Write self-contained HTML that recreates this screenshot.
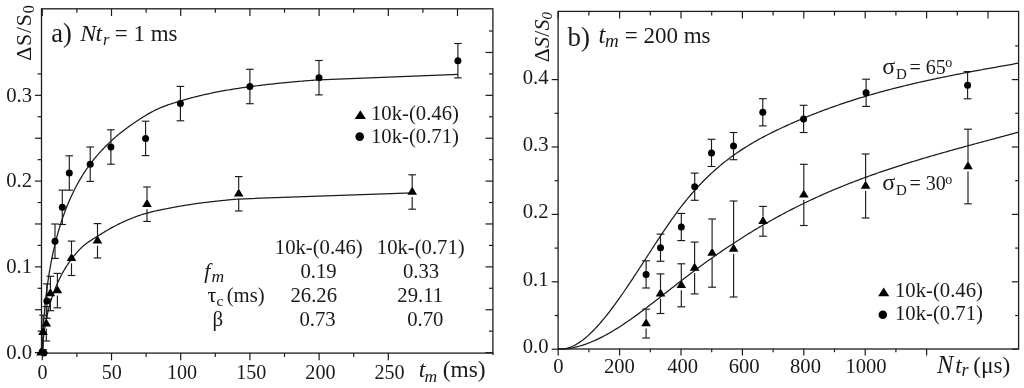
<!DOCTYPE html>
<html><head><meta charset="utf-8"><title>figure</title>
<style>
html,body{margin:0;padding:0;background:#fff;}
body{width:1024px;height:388px;overflow:hidden;}
svg{display:block;filter:grayscale(1);}
svg text{font-family:"Liberation Serif","Times New Roman",serif;fill:#1a1a1a;}
</style></head><body>
<svg width="1024" height="388" viewBox="0 0 1024 388">
<rect x="0" y="0" width="1024" height="388" fill="#fff"/>
<rect x="41.5" y="8.8" width="451.4" height="344.3" fill="none" stroke="#1c1c1c" stroke-width="1.3"/>
<line x1="34.90" y1="352.60" x2="41.50" y2="352.60" stroke="#1c1c1c" stroke-width="1.2"/>
<line x1="485.50" y1="352.60" x2="492.90" y2="352.60" stroke="#1c1c1c" stroke-width="1.2"/>
<line x1="37.60" y1="331.16" x2="41.50" y2="331.16" stroke="#1c1c1c" stroke-width="1.2"/>
<line x1="489.00" y1="331.16" x2="492.90" y2="331.16" stroke="#1c1c1c" stroke-width="1.2"/>
<line x1="34.90" y1="309.73" x2="41.50" y2="309.73" stroke="#1c1c1c" stroke-width="1.2"/>
<line x1="485.50" y1="309.73" x2="492.90" y2="309.73" stroke="#1c1c1c" stroke-width="1.2"/>
<line x1="37.60" y1="288.29" x2="41.50" y2="288.29" stroke="#1c1c1c" stroke-width="1.2"/>
<line x1="489.00" y1="288.29" x2="492.90" y2="288.29" stroke="#1c1c1c" stroke-width="1.2"/>
<line x1="34.90" y1="266.85" x2="41.50" y2="266.85" stroke="#1c1c1c" stroke-width="1.2"/>
<line x1="485.50" y1="266.85" x2="492.90" y2="266.85" stroke="#1c1c1c" stroke-width="1.2"/>
<line x1="37.60" y1="245.41" x2="41.50" y2="245.41" stroke="#1c1c1c" stroke-width="1.2"/>
<line x1="489.00" y1="245.41" x2="492.90" y2="245.41" stroke="#1c1c1c" stroke-width="1.2"/>
<line x1="34.90" y1="223.97" x2="41.50" y2="223.97" stroke="#1c1c1c" stroke-width="1.2"/>
<line x1="485.50" y1="223.97" x2="492.90" y2="223.97" stroke="#1c1c1c" stroke-width="1.2"/>
<line x1="37.60" y1="202.54" x2="41.50" y2="202.54" stroke="#1c1c1c" stroke-width="1.2"/>
<line x1="489.00" y1="202.54" x2="492.90" y2="202.54" stroke="#1c1c1c" stroke-width="1.2"/>
<line x1="34.90" y1="181.10" x2="41.50" y2="181.10" stroke="#1c1c1c" stroke-width="1.2"/>
<line x1="485.50" y1="181.10" x2="492.90" y2="181.10" stroke="#1c1c1c" stroke-width="1.2"/>
<line x1="37.60" y1="159.66" x2="41.50" y2="159.66" stroke="#1c1c1c" stroke-width="1.2"/>
<line x1="489.00" y1="159.66" x2="492.90" y2="159.66" stroke="#1c1c1c" stroke-width="1.2"/>
<line x1="34.90" y1="138.23" x2="41.50" y2="138.23" stroke="#1c1c1c" stroke-width="1.2"/>
<line x1="485.50" y1="138.23" x2="492.90" y2="138.23" stroke="#1c1c1c" stroke-width="1.2"/>
<line x1="37.60" y1="116.79" x2="41.50" y2="116.79" stroke="#1c1c1c" stroke-width="1.2"/>
<line x1="489.00" y1="116.79" x2="492.90" y2="116.79" stroke="#1c1c1c" stroke-width="1.2"/>
<line x1="34.90" y1="95.35" x2="41.50" y2="95.35" stroke="#1c1c1c" stroke-width="1.2"/>
<line x1="485.50" y1="95.35" x2="492.90" y2="95.35" stroke="#1c1c1c" stroke-width="1.2"/>
<line x1="37.60" y1="73.91" x2="41.50" y2="73.91" stroke="#1c1c1c" stroke-width="1.2"/>
<line x1="489.00" y1="73.91" x2="492.90" y2="73.91" stroke="#1c1c1c" stroke-width="1.2"/>
<line x1="485.50" y1="52.47" x2="492.90" y2="52.47" stroke="#1c1c1c" stroke-width="1.2"/>
<line x1="489.00" y1="31.04" x2="492.90" y2="31.04" stroke="#1c1c1c" stroke-width="1.2"/>
<line x1="42.30" y1="8.80" x2="42.30" y2="16.00" stroke="#1c1c1c" stroke-width="1.2"/>
<line x1="42.30" y1="353.10" x2="42.30" y2="360.30" stroke="#1c1c1c" stroke-width="1.2"/>
<line x1="76.90" y1="8.80" x2="76.90" y2="12.70" stroke="#1c1c1c" stroke-width="1.2"/>
<line x1="76.90" y1="353.10" x2="76.90" y2="357.00" stroke="#1c1c1c" stroke-width="1.2"/>
<line x1="111.50" y1="8.80" x2="111.50" y2="16.00" stroke="#1c1c1c" stroke-width="1.2"/>
<line x1="111.50" y1="353.10" x2="111.50" y2="360.30" stroke="#1c1c1c" stroke-width="1.2"/>
<line x1="146.10" y1="8.80" x2="146.10" y2="12.70" stroke="#1c1c1c" stroke-width="1.2"/>
<line x1="146.10" y1="353.10" x2="146.10" y2="357.00" stroke="#1c1c1c" stroke-width="1.2"/>
<line x1="180.70" y1="8.80" x2="180.70" y2="16.00" stroke="#1c1c1c" stroke-width="1.2"/>
<line x1="180.70" y1="353.10" x2="180.70" y2="360.30" stroke="#1c1c1c" stroke-width="1.2"/>
<line x1="215.30" y1="8.80" x2="215.30" y2="12.70" stroke="#1c1c1c" stroke-width="1.2"/>
<line x1="215.30" y1="353.10" x2="215.30" y2="357.00" stroke="#1c1c1c" stroke-width="1.2"/>
<line x1="249.90" y1="8.80" x2="249.90" y2="16.00" stroke="#1c1c1c" stroke-width="1.2"/>
<line x1="249.90" y1="353.10" x2="249.90" y2="360.30" stroke="#1c1c1c" stroke-width="1.2"/>
<line x1="284.50" y1="8.80" x2="284.50" y2="12.70" stroke="#1c1c1c" stroke-width="1.2"/>
<line x1="284.50" y1="353.10" x2="284.50" y2="357.00" stroke="#1c1c1c" stroke-width="1.2"/>
<line x1="319.10" y1="8.80" x2="319.10" y2="16.00" stroke="#1c1c1c" stroke-width="1.2"/>
<line x1="319.10" y1="353.10" x2="319.10" y2="360.30" stroke="#1c1c1c" stroke-width="1.2"/>
<line x1="353.70" y1="8.80" x2="353.70" y2="12.70" stroke="#1c1c1c" stroke-width="1.2"/>
<line x1="353.70" y1="353.10" x2="353.70" y2="357.00" stroke="#1c1c1c" stroke-width="1.2"/>
<line x1="388.30" y1="8.80" x2="388.30" y2="16.00" stroke="#1c1c1c" stroke-width="1.2"/>
<line x1="388.30" y1="353.10" x2="388.30" y2="360.30" stroke="#1c1c1c" stroke-width="1.2"/>
<line x1="422.90" y1="8.80" x2="422.90" y2="12.70" stroke="#1c1c1c" stroke-width="1.2"/>
<line x1="457.50" y1="8.80" x2="457.50" y2="16.00" stroke="#1c1c1c" stroke-width="1.2"/>
<text x="32.00" y="358.80" font-size="20.7" text-anchor="end"  style="">0.0</text>
<text x="32.00" y="273.05" font-size="20.7" text-anchor="end"  style="">0.1</text>
<text x="32.00" y="187.30" font-size="20.7" text-anchor="end"  style="">0.2</text>
<text x="32.00" y="101.55" font-size="20.7" text-anchor="end"  style="">0.3</text>
<text x="42.50" y="379.20" font-size="20.1" text-anchor="middle"  style="">0</text>
<text x="111.70" y="379.20" font-size="20.1" text-anchor="middle"  style="">50</text>
<text x="182.00" y="379.20" font-size="20.1" text-anchor="middle"  style="">100</text>
<text x="251.20" y="379.20" font-size="20.1" text-anchor="middle"  style="">150</text>
<text x="320.40" y="379.20" font-size="20.1" text-anchor="middle"  style="">200</text>
<text x="389.60" y="379.20" font-size="20.1" text-anchor="middle"  style="">250</text>
<path d="M42.50,352.60 L42.73,340.73 L42.97,334.71 L43.20,329.91 L43.44,325.79 L43.67,322.10 L43.91,318.75 L44.14,315.65 L44.38,312.75 L44.61,310.02 L44.84,307.44 L45.08,304.98 L45.31,302.63 L45.55,300.38 L45.78,298.22 L46.02,296.13 L46.25,294.12 L46.48,292.18 L46.72,290.29 L46.95,288.46 L47.19,286.68 L47.42,284.95 L47.66,283.26 L47.89,281.62 L48.13,280.02 L48.36,278.45 L48.59,276.92 L48.83,275.43 L49.06,273.96 L49.30,272.53 L49.53,271.13 L49.77,269.75 L50.00,268.40 L50.24,267.07 L50.47,265.77 L50.70,264.49 L50.94,263.24 L51.17,262.00 L51.41,260.79 L51.64,259.59 L51.88,258.42 L52.11,257.26 L52.35,256.12 L52.58,255.00 L52.81,253.90 L53.05,252.81 L53.28,251.74 L53.52,250.68 L53.75,249.63 L53.99,248.61 L54.22,247.59 L54.45,246.59 L54.69,245.60 L54.92,244.63 L55.16,243.66 L55.39,242.71 L55.63,241.77 L55.86,240.85 L56.10,239.93 L56.33,239.02 L57.65,234.11 L58.97,229.50 L60.29,225.15 L61.61,221.04 L62.93,217.14 L64.25,213.43 L65.57,209.90 L66.89,206.52 L68.21,203.29 L69.53,200.20 L70.85,197.24 L72.18,194.39 L73.50,191.65 L74.82,189.02 L76.14,186.48 L77.46,184.03 L78.78,181.66 L80.10,179.38 L81.42,177.17 L82.74,175.03 L84.06,172.95 L85.38,170.95 L86.70,169.00 L88.02,167.11 L89.34,165.28 L90.66,163.50 L91.98,161.77 L93.30,160.09 L94.62,158.45 L95.94,156.86 L97.26,155.31 L98.58,153.80 L99.90,152.33 L101.23,150.90 L102.55,149.49 L103.87,148.11 L105.19,146.76 L106.51,145.44 L107.83,144.15 L109.15,142.87 L110.47,141.63 L111.79,140.41 L113.11,139.21 L114.43,138.03 L115.75,136.88 L117.07,135.75 L118.39,134.64 L119.71,133.55 L121.03,132.48 L122.35,131.43 L123.67,130.41 L124.99,129.40 L126.31,128.41 L127.63,127.44 L128.95,126.50 L130.28,125.57 L131.60,124.65 L132.92,123.74 L134.24,122.83 L135.56,121.94 L136.88,121.05 L138.20,120.18 L139.52,119.31 L140.84,118.46 L142.16,117.62 L143.48,116.80 L144.80,115.98 L146.12,115.19 L147.44,114.41 L148.76,113.65 L150.08,112.90 L151.40,112.17 L152.72,111.47 L154.04,110.78 L155.36,110.11 L156.68,109.47 L158.00,108.85 L159.33,108.26 L160.65,107.68 L161.97,107.14 L163.29,106.61 L164.61,106.11 L165.93,105.62 L167.25,105.15 L168.57,104.69 L169.89,104.24 L171.21,103.81 L172.53,103.39 L173.85,102.98 L175.17,102.57 L176.49,102.17 L177.81,101.77 L179.13,101.37 L180.45,100.97 L181.77,100.58 L183.09,100.19 L184.41,99.80 L185.73,99.42 L187.05,99.05 L188.38,98.69 L189.70,98.32 L191.02,97.97 L192.34,97.62 L193.66,97.27 L194.98,96.93 L196.30,96.60 L197.62,96.27 L198.94,95.94 L200.26,95.63 L201.58,95.31 L202.90,95.00 L204.22,94.70 L205.54,94.40 L206.86,94.10 L208.18,93.81 L209.50,93.53 L210.82,93.25 L212.14,92.97 L213.46,92.70 L214.78,92.43 L216.10,92.17 L217.43,91.91 L218.75,91.66 L220.07,91.41 L221.39,91.17 L222.71,90.93 L224.03,90.69 L225.35,90.45 L226.67,90.22 L227.99,90.00 L229.31,89.78 L230.63,89.56 L231.95,89.34 L233.27,89.13 L234.59,88.92 L235.91,88.71 L237.23,88.51 L238.55,88.31 L239.87,88.11 L241.19,87.91 L242.51,87.72 L243.83,87.53 L245.15,87.34 L246.48,87.15 L247.80,86.97 L249.12,86.79 L250.44,86.61 L251.76,86.43 L253.08,86.26 L254.40,86.09 L255.72,85.92 L257.04,85.75 L258.36,85.58 L259.68,85.42 L261.00,85.26 L262.32,85.10 L263.64,84.95 L264.96,84.79 L266.28,84.64 L267.60,84.49 L268.92,84.34 L270.24,84.19 L271.56,84.05 L272.88,83.90 L274.20,83.76 L275.53,83.62 L276.85,83.48 L278.17,83.35 L279.49,83.21 L280.81,83.08 L282.13,82.95 L283.45,82.82 L284.77,82.69 L286.09,82.56 L287.41,82.43 L288.73,82.31 L290.05,82.19 L291.37,82.06 L292.69,81.94 L294.01,81.82 L295.33,81.71 L296.65,81.59 L297.97,81.48 L299.29,81.36 L300.61,81.25 L301.93,81.14 L303.25,81.03 L304.58,80.92 L305.90,80.82 L307.22,80.71 L308.54,80.61 L309.86,80.50 L311.18,80.40 L312.50,80.30 L313.82,80.20 L315.14,80.10 L316.46,80.00 L317.78,79.90 L319.10,79.81 L457.90,74.30" fill="none" stroke="#1c1c1c" stroke-width="1.25" stroke-linejoin="round"/>
<path d="M42.50,352.60 L42.73,346.65 L42.97,343.36 L43.20,340.67 L43.44,338.33 L43.67,336.22 L43.91,334.28 L44.14,332.48 L44.38,330.78 L44.61,329.18 L44.84,327.65 L45.08,326.19 L45.31,324.79 L45.55,323.45 L45.78,322.16 L46.02,320.90 L46.25,319.69 L46.48,318.52 L46.72,317.38 L46.95,316.27 L47.19,315.19 L47.42,314.14 L47.66,313.12 L47.89,312.12 L48.13,311.14 L48.36,310.19 L48.59,309.25 L48.83,308.34 L49.06,307.44 L49.30,306.56 L49.53,305.70 L49.77,304.86 L50.00,304.03 L50.24,303.21 L50.47,302.41 L50.70,301.62 L50.94,300.85 L51.17,300.09 L51.41,299.34 L51.64,298.60 L51.88,297.88 L52.11,297.16 L52.35,296.46 L52.58,295.77 L52.81,295.08 L53.05,294.41 L53.28,293.75 L53.52,293.09 L53.75,292.45 L53.99,291.81 L54.22,291.18 L54.45,290.56 L54.69,289.95 L54.92,289.34 L55.16,288.75 L55.39,288.16 L55.63,287.57 L55.86,287.00 L56.10,286.43 L56.33,285.87 L57.25,283.73 L58.16,281.68 L59.08,279.72 L60.00,277.84 L60.92,276.03 L61.83,274.29 L62.75,272.61 L63.67,270.99 L64.59,269.42 L65.50,267.91 L66.42,266.45 L67.34,265.03 L68.26,263.65 L69.17,262.32 L70.09,261.03 L71.01,259.77 L71.93,258.55 L72.84,257.37 L73.76,256.21 L74.68,255.09 L75.59,254.00 L76.51,252.93 L77.43,251.90 L78.35,250.89 L79.26,249.90 L80.18,248.94 L81.10,248.02 L82.02,247.14 L82.93,246.31 L83.85,245.51 L84.77,244.75 L85.69,244.03 L86.60,243.33 L87.52,242.66 L88.44,242.01 L89.36,241.38 L90.27,240.77 L91.19,240.18 L92.11,239.60 L93.02,239.03 L93.94,238.46 L94.86,237.90 L95.78,237.34 L96.69,236.78 L97.61,236.21 L98.53,235.64 L99.45,235.06 L100.36,234.47 L101.28,233.88 L102.20,233.30 L103.12,232.73 L104.03,232.16 L104.95,231.61 L105.87,231.06 L106.79,230.52 L107.70,229.98 L108.62,229.45 L109.54,228.93 L110.45,228.42 L111.37,227.91 L112.29,227.41 L113.21,226.92 L114.12,226.43 L115.04,225.95 L115.96,225.48 L116.88,225.01 L117.79,224.55 L118.71,224.09 L119.63,223.64 L120.55,223.20 L121.46,222.76 L122.38,222.33 L123.30,221.91 L124.22,221.49 L125.13,221.08 L126.05,220.67 L126.97,220.27 L127.88,219.88 L128.80,219.49 L129.72,219.11 L130.64,218.73 L131.55,218.36 L132.47,218.00 L133.39,217.64 L134.31,217.29 L135.22,216.95 L136.14,216.61 L137.06,216.28 L137.98,215.95 L138.89,215.64 L139.81,215.32 L140.73,215.02 L141.65,214.72 L142.56,214.42 L143.48,214.14 L144.40,213.86 L145.31,213.59 L146.23,213.32 L147.15,213.06 L148.07,212.81 L148.98,212.56 L149.90,212.32 L150.82,212.09 L151.74,211.86 L152.65,211.64 L153.57,211.43 L154.49,211.22 L155.41,211.01 L156.32,210.81 L157.24,210.61 L158.16,210.42 L159.08,210.22 L159.99,210.04 L160.91,209.85 L161.83,209.66 L162.74,209.48 L163.66,209.30 L164.58,209.12 L165.50,208.94 L166.41,208.76 L167.33,208.58 L168.25,208.40 L169.17,208.22 L170.08,208.03 L171.00,207.85 L171.92,207.67 L172.84,207.50 L173.75,207.32 L174.67,207.15 L175.59,206.98 L176.51,206.81 L177.42,206.64 L178.34,206.48 L179.26,206.32 L180.17,206.16 L181.09,206.00 L182.01,205.84 L182.93,205.69 L183.84,205.54 L184.76,205.39 L185.68,205.24 L186.60,205.09 L187.51,204.95 L188.43,204.80 L189.35,204.66 L190.27,204.52 L191.18,204.38 L192.10,204.25 L193.02,204.11 L193.94,203.98 L194.85,203.85 L195.77,203.72 L196.69,203.59 L197.60,203.46 L198.52,203.34 L199.44,203.21 L200.36,203.09 L201.27,202.97 L202.19,202.85 L203.11,202.73 L204.03,202.61 L204.94,202.50 L205.86,202.38 L206.78,202.27 L207.70,202.16 L208.61,202.05 L209.53,201.94 L210.45,201.83 L211.36,201.72 L212.28,201.62 L213.20,201.52 L214.12,201.41 L215.03,201.31 L215.95,201.21 L216.87,201.11 L217.79,201.01 L218.70,200.91 L219.62,200.82 L220.54,200.72 L221.46,200.63 L222.37,200.53 L223.29,200.44 L224.21,200.35 L225.13,200.26 L226.04,200.17 L226.96,200.08 L227.88,199.99 L228.79,199.91 L229.71,199.82 L230.63,199.74 L231.55,199.65 L232.46,199.57 L233.38,199.49 L234.30,199.41 L235.22,199.33 L236.13,199.25 L237.05,199.17 L237.97,199.09 L238.89,199.02 L412.20,192.90" fill="none" stroke="#1c1c1c" stroke-width="1.25" stroke-linejoin="round"/>
<line x1="43.90" y1="352.99" x2="43.90" y2="353.01" stroke="#1c1c1c" stroke-width="1.15"/>
<line x1="40.10" y1="352.99" x2="47.70" y2="352.99" stroke="#1c1c1c" stroke-width="1.15"/>
<line x1="40.10" y1="353.01" x2="47.70" y2="353.01" stroke="#1c1c1c" stroke-width="1.15"/>
<line x1="46.90" y1="283.90" x2="46.90" y2="318.30" stroke="#1c1c1c" stroke-width="1.15"/>
<line x1="43.10" y1="283.90" x2="50.70" y2="283.90" stroke="#1c1c1c" stroke-width="1.15"/>
<line x1="43.10" y1="318.30" x2="50.70" y2="318.30" stroke="#1c1c1c" stroke-width="1.15"/>
<line x1="55.00" y1="224.00" x2="55.00" y2="258.40" stroke="#1c1c1c" stroke-width="1.15"/>
<line x1="51.20" y1="224.00" x2="58.80" y2="224.00" stroke="#1c1c1c" stroke-width="1.15"/>
<line x1="51.20" y1="258.40" x2="58.80" y2="258.40" stroke="#1c1c1c" stroke-width="1.15"/>
<line x1="62.30" y1="190.10" x2="62.30" y2="224.50" stroke="#1c1c1c" stroke-width="1.15"/>
<line x1="58.50" y1="190.10" x2="66.10" y2="190.10" stroke="#1c1c1c" stroke-width="1.15"/>
<line x1="58.50" y1="224.50" x2="66.10" y2="224.50" stroke="#1c1c1c" stroke-width="1.15"/>
<line x1="69.30" y1="155.80" x2="69.30" y2="190.20" stroke="#1c1c1c" stroke-width="1.15"/>
<line x1="65.50" y1="155.80" x2="73.10" y2="155.80" stroke="#1c1c1c" stroke-width="1.15"/>
<line x1="65.50" y1="190.20" x2="73.10" y2="190.20" stroke="#1c1c1c" stroke-width="1.15"/>
<line x1="90.20" y1="147.00" x2="90.20" y2="181.40" stroke="#1c1c1c" stroke-width="1.15"/>
<line x1="86.40" y1="147.00" x2="94.00" y2="147.00" stroke="#1c1c1c" stroke-width="1.15"/>
<line x1="86.40" y1="181.40" x2="94.00" y2="181.40" stroke="#1c1c1c" stroke-width="1.15"/>
<line x1="110.90" y1="129.80" x2="110.90" y2="164.20" stroke="#1c1c1c" stroke-width="1.15"/>
<line x1="107.10" y1="129.80" x2="114.70" y2="129.80" stroke="#1c1c1c" stroke-width="1.15"/>
<line x1="107.10" y1="164.20" x2="114.70" y2="164.20" stroke="#1c1c1c" stroke-width="1.15"/>
<line x1="145.60" y1="121.20" x2="145.60" y2="155.60" stroke="#1c1c1c" stroke-width="1.15"/>
<line x1="141.80" y1="121.20" x2="149.40" y2="121.20" stroke="#1c1c1c" stroke-width="1.15"/>
<line x1="141.80" y1="155.60" x2="149.40" y2="155.60" stroke="#1c1c1c" stroke-width="1.15"/>
<line x1="180.40" y1="86.40" x2="180.40" y2="120.80" stroke="#1c1c1c" stroke-width="1.15"/>
<line x1="176.60" y1="86.40" x2="184.20" y2="86.40" stroke="#1c1c1c" stroke-width="1.15"/>
<line x1="176.60" y1="120.80" x2="184.20" y2="120.80" stroke="#1c1c1c" stroke-width="1.15"/>
<line x1="249.90" y1="69.30" x2="249.90" y2="103.70" stroke="#1c1c1c" stroke-width="1.15"/>
<line x1="246.10" y1="69.30" x2="253.70" y2="69.30" stroke="#1c1c1c" stroke-width="1.15"/>
<line x1="246.10" y1="103.70" x2="253.70" y2="103.70" stroke="#1c1c1c" stroke-width="1.15"/>
<line x1="319.00" y1="60.50" x2="319.00" y2="94.90" stroke="#1c1c1c" stroke-width="1.15"/>
<line x1="315.20" y1="60.50" x2="322.80" y2="60.50" stroke="#1c1c1c" stroke-width="1.15"/>
<line x1="315.20" y1="94.90" x2="322.80" y2="94.90" stroke="#1c1c1c" stroke-width="1.15"/>
<line x1="457.90" y1="43.50" x2="457.90" y2="77.90" stroke="#1c1c1c" stroke-width="1.15"/>
<line x1="454.10" y1="43.50" x2="461.70" y2="43.50" stroke="#1c1c1c" stroke-width="1.15"/>
<line x1="454.10" y1="77.90" x2="461.70" y2="77.90" stroke="#1c1c1c" stroke-width="1.15"/>
<line x1="41.00" y1="352.79" x2="41.00" y2="352.81" stroke="#1c1c1c" stroke-width="1.15"/>
<line x1="37.20" y1="352.79" x2="44.80" y2="352.79" stroke="#1c1c1c" stroke-width="1.15"/>
<line x1="37.20" y1="352.81" x2="44.80" y2="352.81" stroke="#1c1c1c" stroke-width="1.15"/>
<line x1="43.00" y1="315.20" x2="43.00" y2="327.40" stroke="#1c1c1c" stroke-width="1.15"/>
<line x1="43.00" y1="337.40" x2="43.00" y2="349.60" stroke="#1c1c1c" stroke-width="1.15"/>
<line x1="39.20" y1="315.20" x2="46.80" y2="315.20" stroke="#1c1c1c" stroke-width="1.15"/>
<line x1="39.20" y1="349.60" x2="46.80" y2="349.60" stroke="#1c1c1c" stroke-width="1.15"/>
<line x1="46.30" y1="306.60" x2="46.30" y2="318.80" stroke="#1c1c1c" stroke-width="1.15"/>
<line x1="46.30" y1="328.80" x2="46.30" y2="341.00" stroke="#1c1c1c" stroke-width="1.15"/>
<line x1="42.50" y1="306.60" x2="50.10" y2="306.60" stroke="#1c1c1c" stroke-width="1.15"/>
<line x1="42.50" y1="341.00" x2="50.10" y2="341.00" stroke="#1c1c1c" stroke-width="1.15"/>
<line x1="50.40" y1="276.30" x2="50.40" y2="288.50" stroke="#1c1c1c" stroke-width="1.15"/>
<line x1="50.40" y1="298.50" x2="50.40" y2="310.70" stroke="#1c1c1c" stroke-width="1.15"/>
<line x1="46.60" y1="276.30" x2="54.20" y2="276.30" stroke="#1c1c1c" stroke-width="1.15"/>
<line x1="46.60" y1="310.70" x2="54.20" y2="310.70" stroke="#1c1c1c" stroke-width="1.15"/>
<line x1="57.40" y1="273.40" x2="57.40" y2="285.60" stroke="#1c1c1c" stroke-width="1.15"/>
<line x1="57.40" y1="295.60" x2="57.40" y2="307.80" stroke="#1c1c1c" stroke-width="1.15"/>
<line x1="53.60" y1="273.40" x2="61.20" y2="273.40" stroke="#1c1c1c" stroke-width="1.15"/>
<line x1="53.60" y1="307.80" x2="61.20" y2="307.80" stroke="#1c1c1c" stroke-width="1.15"/>
<line x1="71.50" y1="241.10" x2="71.50" y2="253.30" stroke="#1c1c1c" stroke-width="1.15"/>
<line x1="71.50" y1="263.30" x2="71.50" y2="275.50" stroke="#1c1c1c" stroke-width="1.15"/>
<line x1="67.70" y1="241.10" x2="75.30" y2="241.10" stroke="#1c1c1c" stroke-width="1.15"/>
<line x1="67.70" y1="275.50" x2="75.30" y2="275.50" stroke="#1c1c1c" stroke-width="1.15"/>
<line x1="97.50" y1="223.60" x2="97.50" y2="235.80" stroke="#1c1c1c" stroke-width="1.15"/>
<line x1="97.50" y1="245.80" x2="97.50" y2="258.00" stroke="#1c1c1c" stroke-width="1.15"/>
<line x1="93.70" y1="223.60" x2="101.30" y2="223.60" stroke="#1c1c1c" stroke-width="1.15"/>
<line x1="93.70" y1="258.00" x2="101.30" y2="258.00" stroke="#1c1c1c" stroke-width="1.15"/>
<line x1="147.00" y1="187.00" x2="147.00" y2="199.20" stroke="#1c1c1c" stroke-width="1.15"/>
<line x1="147.00" y1="209.20" x2="147.00" y2="221.40" stroke="#1c1c1c" stroke-width="1.15"/>
<line x1="143.20" y1="187.00" x2="150.80" y2="187.00" stroke="#1c1c1c" stroke-width="1.15"/>
<line x1="143.20" y1="221.40" x2="150.80" y2="221.40" stroke="#1c1c1c" stroke-width="1.15"/>
<line x1="238.70" y1="176.60" x2="238.70" y2="188.80" stroke="#1c1c1c" stroke-width="1.15"/>
<line x1="238.70" y1="198.80" x2="238.70" y2="211.00" stroke="#1c1c1c" stroke-width="1.15"/>
<line x1="234.90" y1="176.60" x2="242.50" y2="176.60" stroke="#1c1c1c" stroke-width="1.15"/>
<line x1="234.90" y1="211.00" x2="242.50" y2="211.00" stroke="#1c1c1c" stroke-width="1.15"/>
<line x1="412.20" y1="174.80" x2="412.20" y2="187.00" stroke="#1c1c1c" stroke-width="1.15"/>
<line x1="412.20" y1="197.00" x2="412.20" y2="209.20" stroke="#1c1c1c" stroke-width="1.15"/>
<line x1="408.40" y1="174.80" x2="416.00" y2="174.80" stroke="#1c1c1c" stroke-width="1.15"/>
<line x1="408.40" y1="209.20" x2="416.00" y2="209.20" stroke="#1c1c1c" stroke-width="1.15"/>
<polygon points="41.00,347.40 36.20,355.50 45.80,355.50" fill="#000"/>
<polygon points="43.00,327.00 38.20,335.10 47.80,335.10" fill="#000"/>
<polygon points="46.30,318.40 41.50,326.50 51.10,326.50" fill="#000"/>
<polygon points="50.40,288.10 45.60,296.20 55.20,296.20" fill="#000"/>
<polygon points="57.40,285.20 52.60,293.30 62.20,293.30" fill="#000"/>
<polygon points="71.50,252.90 66.70,261.00 76.30,261.00" fill="#000"/>
<polygon points="97.50,235.40 92.70,243.50 102.30,243.50" fill="#000"/>
<polygon points="147.00,198.80 142.20,206.90 151.80,206.90" fill="#000"/>
<polygon points="238.70,188.40 233.90,196.50 243.50,196.50" fill="#000"/>
<polygon points="412.20,186.60 407.40,194.70 417.00,194.70" fill="#000"/>
<circle cx="43.90" cy="353.00" r="3.5" fill="#000"/>
<circle cx="46.90" cy="301.10" r="3.5" fill="#000"/>
<circle cx="55.00" cy="241.20" r="3.5" fill="#000"/>
<circle cx="62.30" cy="207.30" r="3.5" fill="#000"/>
<circle cx="69.30" cy="173.00" r="3.5" fill="#000"/>
<circle cx="90.20" cy="164.20" r="3.5" fill="#000"/>
<circle cx="110.90" cy="147.00" r="3.5" fill="#000"/>
<circle cx="145.60" cy="138.40" r="3.5" fill="#000"/>
<circle cx="180.40" cy="103.60" r="3.5" fill="#000"/>
<circle cx="249.90" cy="86.50" r="3.5" fill="#000"/>
<circle cx="319.00" cy="77.70" r="3.5" fill="#000"/>
<circle cx="457.90" cy="60.70" r="3.5" fill="#000"/>
<polygon points="360.30,110.13 354.70,118.93 365.90,118.93" fill="#000"/>
<circle cx="359.70" cy="136.60" r="4.3" fill="#000"/>
<text x="371.00" y="119.80" font-size="20.7" text-anchor="start"  style="">10k-(0.46)</text>
<text x="371.00" y="142.50" font-size="20.7" text-anchor="start"  style="">10k-(0.71)</text>
<text x="51.20" y="42.30" font-size="26.5" text-anchor="start"  style="">a)</text>
<text x="80.20" y="41.40" font-size="24" text-anchor="start"  style="font-style:italic">N</text>
<text x="95.40" y="41.40" font-size="24" text-anchor="start"  style="font-style:italic">t</text>
<text x="103.00" y="44.60" font-size="16.5" text-anchor="start"  style="font-style:italic">r</text>
<text x="177.50" y="41.40" font-size="23" text-anchor="end"  style="">= 1 ms</text>
<text transform="translate(31.3,60.8) rotate(-90)" font-size="22" letter-spacing="0.7">ΔS/S<tspan font-size="16" dy="3">0</tspan></text>
<text x="418.80" y="376.90" font-size="24" text-anchor="start"  style="font-style:italic">t</text>
<text x="424.60" y="381.80" font-size="17.5" text-anchor="start"  style="font-style:italic">m</text>
<text x="485.60" y="376.90" font-size="23.4" text-anchor="end"  style="">(ms)</text>
<line x1="492.90" y1="353.10" x2="492.90" y2="355.10" stroke="#1c1c1c" stroke-width="1.3"/>
<text x="274.80" y="253.50" font-size="20.7" text-anchor="start"  style="">10k-(0.46)</text>
<text x="376.80" y="253.50" font-size="20.7" text-anchor="start"  style="">10k-(0.71)</text>
<text x="204.30" y="277.50" font-size="21.5" text-anchor="start"  style="font-style:italic">f</text>
<text x="211.60" y="281.60" font-size="17.5" text-anchor="start"  style="font-style:italic">m</text>
<text x="300.50" y="277.50" font-size="20.7" text-anchor="start"  style="">0.19</text>
<text x="403.00" y="277.50" font-size="20.7" text-anchor="start"  style="">0.33</text>
<text x="207.60" y="301.50" font-size="22" text-anchor="start"  style="">τ</text>
<text x="216.60" y="305.60" font-size="15.5" text-anchor="start"  style="">c</text>
<text x="264.60" y="301.50" font-size="20.7" text-anchor="end"  style="">(ms)</text>
<text x="290.50" y="301.50" font-size="20.7" text-anchor="start"  style="">26.26</text>
<text x="397.30" y="301.50" font-size="20.7" text-anchor="start"  style="">29.11</text>
<text x="212.60" y="326.00" font-size="21" text-anchor="start"  style="">β</text>
<text x="299.50" y="326.00" font-size="20.7" text-anchor="start"  style="">0.73</text>
<text x="407.20" y="326.00" font-size="20.7" text-anchor="start"  style="">0.70</text>
<rect x="558.1" y="11.4" width="460.5" height="337.6" fill="none" stroke="#1c1c1c" stroke-width="1.3"/>
<line x1="551.70" y1="349.20" x2="558.10" y2="349.20" stroke="#1c1c1c" stroke-width="1.2"/>
<line x1="1011.80" y1="349.20" x2="1018.60" y2="349.20" stroke="#1c1c1c" stroke-width="1.2"/>
<line x1="554.70" y1="315.50" x2="558.10" y2="315.50" stroke="#1c1c1c" stroke-width="1.2"/>
<line x1="1015.20" y1="315.50" x2="1018.60" y2="315.50" stroke="#1c1c1c" stroke-width="1.2"/>
<line x1="551.70" y1="281.80" x2="558.10" y2="281.80" stroke="#1c1c1c" stroke-width="1.2"/>
<line x1="1011.80" y1="281.80" x2="1018.60" y2="281.80" stroke="#1c1c1c" stroke-width="1.2"/>
<line x1="554.70" y1="248.10" x2="558.10" y2="248.10" stroke="#1c1c1c" stroke-width="1.2"/>
<line x1="1015.20" y1="248.10" x2="1018.60" y2="248.10" stroke="#1c1c1c" stroke-width="1.2"/>
<line x1="551.70" y1="214.40" x2="558.10" y2="214.40" stroke="#1c1c1c" stroke-width="1.2"/>
<line x1="1011.80" y1="214.40" x2="1018.60" y2="214.40" stroke="#1c1c1c" stroke-width="1.2"/>
<line x1="554.70" y1="180.70" x2="558.10" y2="180.70" stroke="#1c1c1c" stroke-width="1.2"/>
<line x1="1015.20" y1="180.70" x2="1018.60" y2="180.70" stroke="#1c1c1c" stroke-width="1.2"/>
<line x1="551.70" y1="147.00" x2="558.10" y2="147.00" stroke="#1c1c1c" stroke-width="1.2"/>
<line x1="1011.80" y1="147.00" x2="1018.60" y2="147.00" stroke="#1c1c1c" stroke-width="1.2"/>
<line x1="554.70" y1="113.30" x2="558.10" y2="113.30" stroke="#1c1c1c" stroke-width="1.2"/>
<line x1="1015.20" y1="113.30" x2="1018.60" y2="113.30" stroke="#1c1c1c" stroke-width="1.2"/>
<line x1="551.70" y1="79.60" x2="558.10" y2="79.60" stroke="#1c1c1c" stroke-width="1.2"/>
<line x1="1011.80" y1="79.60" x2="1018.60" y2="79.60" stroke="#1c1c1c" stroke-width="1.2"/>
<line x1="1015.20" y1="45.90" x2="1018.60" y2="45.90" stroke="#1c1c1c" stroke-width="1.2"/>
<line x1="558.20" y1="11.40" x2="558.20" y2="18.60" stroke="#1c1c1c" stroke-width="1.2"/>
<line x1="558.20" y1="349.00" x2="558.20" y2="355.40" stroke="#1c1c1c" stroke-width="1.2"/>
<line x1="588.90" y1="11.40" x2="588.90" y2="15.60" stroke="#1c1c1c" stroke-width="1.2"/>
<line x1="588.90" y1="349.00" x2="588.90" y2="352.20" stroke="#1c1c1c" stroke-width="1.2"/>
<line x1="619.60" y1="11.40" x2="619.60" y2="18.60" stroke="#1c1c1c" stroke-width="1.2"/>
<line x1="619.60" y1="349.00" x2="619.60" y2="355.40" stroke="#1c1c1c" stroke-width="1.2"/>
<line x1="650.30" y1="11.40" x2="650.30" y2="15.60" stroke="#1c1c1c" stroke-width="1.2"/>
<line x1="650.30" y1="349.00" x2="650.30" y2="352.20" stroke="#1c1c1c" stroke-width="1.2"/>
<line x1="681.00" y1="11.40" x2="681.00" y2="18.60" stroke="#1c1c1c" stroke-width="1.2"/>
<line x1="681.00" y1="349.00" x2="681.00" y2="355.40" stroke="#1c1c1c" stroke-width="1.2"/>
<line x1="711.70" y1="11.40" x2="711.70" y2="15.60" stroke="#1c1c1c" stroke-width="1.2"/>
<line x1="711.70" y1="349.00" x2="711.70" y2="352.20" stroke="#1c1c1c" stroke-width="1.2"/>
<line x1="742.40" y1="11.40" x2="742.40" y2="18.60" stroke="#1c1c1c" stroke-width="1.2"/>
<line x1="742.40" y1="349.00" x2="742.40" y2="355.40" stroke="#1c1c1c" stroke-width="1.2"/>
<line x1="773.10" y1="11.40" x2="773.10" y2="15.60" stroke="#1c1c1c" stroke-width="1.2"/>
<line x1="773.10" y1="349.00" x2="773.10" y2="352.20" stroke="#1c1c1c" stroke-width="1.2"/>
<line x1="803.80" y1="11.40" x2="803.80" y2="18.60" stroke="#1c1c1c" stroke-width="1.2"/>
<line x1="803.80" y1="349.00" x2="803.80" y2="355.40" stroke="#1c1c1c" stroke-width="1.2"/>
<line x1="834.50" y1="11.40" x2="834.50" y2="15.60" stroke="#1c1c1c" stroke-width="1.2"/>
<line x1="834.50" y1="349.00" x2="834.50" y2="352.20" stroke="#1c1c1c" stroke-width="1.2"/>
<line x1="865.20" y1="11.40" x2="865.20" y2="18.60" stroke="#1c1c1c" stroke-width="1.2"/>
<line x1="865.20" y1="349.00" x2="865.20" y2="355.40" stroke="#1c1c1c" stroke-width="1.2"/>
<line x1="895.90" y1="11.40" x2="895.90" y2="15.60" stroke="#1c1c1c" stroke-width="1.2"/>
<line x1="895.90" y1="349.00" x2="895.90" y2="352.20" stroke="#1c1c1c" stroke-width="1.2"/>
<line x1="926.60" y1="11.40" x2="926.60" y2="18.60" stroke="#1c1c1c" stroke-width="1.2"/>
<line x1="926.60" y1="349.00" x2="926.60" y2="355.40" stroke="#1c1c1c" stroke-width="1.2"/>
<line x1="957.30" y1="11.40" x2="957.30" y2="15.60" stroke="#1c1c1c" stroke-width="1.2"/>
<line x1="988.00" y1="11.40" x2="988.00" y2="18.60" stroke="#1c1c1c" stroke-width="1.2"/>
<text x="548.50" y="353.10" font-size="20.7" text-anchor="end"  style="">0.0</text>
<text x="548.50" y="285.70" font-size="20.7" text-anchor="end"  style="">0.1</text>
<text x="548.50" y="218.30" font-size="20.7" text-anchor="end"  style="">0.2</text>
<text x="548.50" y="150.90" font-size="20.7" text-anchor="end"  style="">0.3</text>
<text x="548.50" y="83.50" font-size="20.7" text-anchor="end"  style="">0.4</text>
<text x="558.50" y="373.20" font-size="20.6" text-anchor="middle"  style="">0</text>
<text x="619.40" y="373.20" font-size="20.6" text-anchor="middle"  style="">200</text>
<text x="682.70" y="373.20" font-size="20.6" text-anchor="middle"  style="">400</text>
<text x="744.10" y="373.20" font-size="20.6" text-anchor="middle"  style="">600</text>
<text x="805.50" y="373.20" font-size="20.6" text-anchor="middle"  style="">800</text>
<text x="866.00" y="373.20" font-size="20.6" text-anchor="middle"  style="">1000</text>
<path d="M558.20,348.90 L559.74,348.90 L561.28,348.90 L562.82,348.90 L564.36,348.87 L565.90,348.56 L567.44,348.16 L568.98,347.68 L570.52,347.11 L572.06,346.47 L573.60,345.75 L575.14,344.96 L576.68,344.09 L578.22,343.15 L579.76,342.13 L581.30,341.06 L582.84,339.91 L584.38,338.70 L585.92,337.43 L587.46,336.10 L589.00,334.72 L590.54,333.27 L592.08,331.77 L593.62,330.22 L595.16,328.62 L596.69,326.98 L598.23,325.28 L599.77,323.55 L601.31,321.77 L602.85,319.95 L604.39,318.09 L605.93,316.19 L607.47,314.26 L609.01,312.29 L610.55,310.29 L612.09,308.25 L613.63,306.19 L615.17,304.10 L616.71,301.98 L618.25,299.83 L619.79,297.66 L621.33,295.46 L622.87,293.24 L624.41,291.00 L625.95,288.75 L627.49,286.47 L629.03,284.18 L630.57,281.87 L632.11,279.55 L633.65,277.21 L635.19,274.87 L636.73,272.51 L638.27,270.15 L639.81,267.78 L641.35,265.41 L642.89,263.03 L644.43,260.65 L645.97,258.27 L647.51,255.88 L649.05,253.50 L650.59,251.13 L652.13,248.76 L653.67,246.39 L655.21,244.03 L656.75,241.68 L658.29,239.34 L659.83,237.01 L661.37,234.70 L662.91,232.40 L664.45,230.11 L665.99,227.84 L667.53,225.60 L669.07,223.37 L670.61,221.16 L672.15,218.97 L673.68,216.81 L675.22,214.68 L676.76,212.57 L678.30,210.49 L679.84,208.44 L681.38,206.42 L682.92,204.44 L684.46,202.49 L686.00,200.57 L687.54,198.68 L689.08,196.83 L690.62,195.01 L692.16,193.22 L693.70,191.46 L695.24,189.73 L696.78,188.03 L698.32,186.36 L699.86,184.72 L701.40,183.11 L702.94,181.53 L704.48,179.97 L706.02,178.44 L707.56,176.94 L709.10,175.47 L710.64,174.02 L712.18,172.60 L713.72,171.20 L715.26,169.83 L716.80,168.48 L718.34,167.16 L719.88,165.86 L721.42,164.58 L722.96,163.32 L724.50,162.09 L726.04,160.88 L727.58,159.69 L729.12,158.52 L730.66,157.37 L732.20,156.24 L733.74,155.13 L735.28,154.04 L736.82,152.97 L738.36,151.92 L739.90,150.88 L741.44,149.86 L742.98,148.86 L744.52,147.87 L746.06,146.91 L747.60,145.95 L749.14,145.01 L750.67,144.09 L752.21,143.18 L753.75,142.28 L755.29,141.40 L756.83,140.53 L758.37,139.67 L759.91,138.82 L761.45,137.99 L762.99,137.17 L764.53,136.35 L766.07,135.55 L767.61,134.76 L769.15,133.97 L770.69,133.20 L772.23,132.43 L773.77,131.68 L775.31,130.93 L776.85,130.18 L778.39,129.45 L779.93,128.71 L781.47,127.99 L783.01,127.27 L784.55,126.56 L786.09,125.85 L787.63,125.15 L789.17,124.45 L790.71,123.76 L792.25,123.08 L793.79,122.40 L795.33,121.73 L796.87,121.06 L798.41,120.40 L799.95,119.74 L801.49,119.09 L803.03,118.44 L804.57,117.80 L806.11,117.17 L807.65,116.54 L809.19,115.91 L810.73,115.29 L812.27,114.68 L813.81,114.07 L815.35,113.46 L816.89,112.86 L818.43,112.27 L819.97,111.68 L821.51,111.10 L823.05,110.52 L824.59,109.94 L826.13,109.37 L827.66,108.81 L829.20,108.25 L830.74,107.69 L832.28,107.14 L833.82,106.59 L835.36,106.05 L836.90,105.51 L838.44,104.98 L839.98,104.45 L841.52,103.93 L843.06,103.41 L844.60,102.89 L846.14,102.38 L847.68,101.87 L849.22,101.37 L850.76,100.87 L852.30,100.38 L853.84,99.89 L855.38,99.40 L856.92,98.92 L858.46,98.44 L860.00,97.97 L861.54,97.50 L863.08,97.03 L864.62,96.57 L866.16,96.11 L867.70,95.65 L869.24,95.20 L870.78,94.75 L872.32,94.31 L873.86,93.87 L875.40,93.43 L876.94,93.00 L878.48,92.57 L880.02,92.14 L881.56,91.72 L883.10,91.30 L884.64,90.89 L886.18,90.47 L887.72,90.06 L889.26,89.66 L890.80,89.25 L892.34,88.85 L893.88,88.46 L895.42,88.06 L896.96,87.67 L898.50,87.28 L900.04,86.90 L901.58,86.52 L903.12,86.14 L904.65,85.76 L906.19,85.39 L907.73,85.02 L909.27,84.65 L910.81,84.29 L912.35,83.92 L913.89,83.56 L915.43,83.21 L916.97,82.85 L918.51,82.50 L920.05,82.15 L921.59,81.80 L923.13,81.46 L924.67,81.12 L926.21,80.78 L927.75,80.44 L929.29,80.10 L930.83,79.77 L932.37,79.44 L933.91,79.11 L935.45,78.78 L936.99,78.46 L938.53,78.14 L940.07,77.81 L941.61,77.50 L943.15,77.18 L944.69,76.86 L946.23,76.55 L947.77,76.24 L949.31,75.93 L950.85,75.62 L952.39,75.31 L953.93,75.01 L955.47,74.71 L957.01,74.40 L958.55,74.10 L960.09,73.81 L961.63,73.51 L963.17,73.21 L964.71,72.92 L966.25,72.62 L967.79,72.33 L969.33,72.04 L970.87,71.75 L972.41,71.46 L973.95,71.18 L975.49,70.89 L977.03,70.61 L978.57,70.32 L980.11,70.04 L981.64,69.76 L983.18,69.48 L984.72,69.20 L986.26,68.92 L987.80,68.64 L989.34,68.36 L990.88,68.08 L992.42,67.81 L993.96,67.53 L995.50,67.26 L997.04,66.98 L998.58,66.71 L1000.12,66.43 L1001.66,66.16 L1003.20,65.89 L1004.74,65.62 L1006.28,65.34 L1007.82,65.07 L1009.36,64.80 L1010.90,64.53 L1012.44,64.26 L1013.98,63.99 L1015.52,63.72 L1017.06,63.45 L1018.60,63.18" fill="none" stroke="#1c1c1c" stroke-width="1.25" stroke-linejoin="round"/>
<path d="M558.20,348.90 L559.74,348.90 L561.28,348.90 L562.82,348.90 L564.36,348.90 L565.90,348.76 L567.44,348.58 L568.98,348.37 L570.52,348.12 L572.06,347.84 L573.60,347.54 L575.14,347.20 L576.68,346.83 L578.22,346.44 L579.76,346.01 L581.30,345.56 L582.84,345.08 L584.38,344.58 L585.92,344.05 L587.46,343.49 L589.00,342.90 L590.54,342.29 L592.08,341.66 L593.62,341.00 L595.16,340.32 L596.69,339.62 L598.23,338.90 L599.77,338.15 L601.31,337.38 L602.85,336.59 L604.39,335.78 L605.93,334.95 L607.47,334.10 L609.01,333.24 L610.55,332.35 L612.09,331.45 L613.63,330.53 L615.17,329.59 L616.71,328.64 L618.25,327.67 L619.79,326.68 L621.33,325.68 L622.87,324.67 L624.41,323.64 L625.95,322.60 L627.49,321.55 L629.03,320.49 L630.57,319.41 L632.11,318.32 L633.65,317.23 L635.19,316.12 L636.73,315.00 L638.27,313.88 L639.81,312.74 L641.35,311.60 L642.89,310.45 L644.43,309.29 L645.97,308.13 L647.51,306.96 L649.05,305.78 L650.59,304.60 L652.13,303.42 L653.67,302.23 L655.21,301.04 L656.75,299.85 L658.29,298.65 L659.83,297.45 L661.37,296.25 L662.91,295.05 L664.45,293.85 L665.99,292.65 L667.53,291.45 L669.07,290.24 L670.61,289.04 L672.15,287.84 L673.68,286.64 L675.22,285.44 L676.76,284.25 L678.30,283.05 L679.84,281.86 L681.38,280.67 L682.92,279.48 L684.46,278.30 L686.00,277.12 L687.54,275.94 L689.08,274.77 L690.62,273.60 L692.16,272.43 L693.70,271.27 L695.24,270.12 L696.78,268.97 L698.32,267.83 L699.86,266.69 L701.40,265.56 L702.94,264.43 L704.48,263.31 L706.02,262.20 L707.56,261.09 L709.10,259.99 L710.64,258.89 L712.18,257.80 L713.72,256.72 L715.26,255.64 L716.80,254.56 L718.34,253.50 L719.88,252.44 L721.42,251.38 L722.96,250.33 L724.50,249.29 L726.04,248.25 L727.58,247.22 L729.12,246.19 L730.66,245.17 L732.20,244.16 L733.74,243.15 L735.28,242.15 L736.82,241.15 L738.36,240.16 L739.90,239.18 L741.44,238.20 L742.98,237.22 L744.52,236.26 L746.06,235.29 L747.60,234.34 L749.14,233.39 L750.67,232.44 L752.21,231.50 L753.75,230.57 L755.29,229.64 L756.83,228.72 L758.37,227.81 L759.91,226.90 L761.45,225.99 L762.99,225.09 L764.53,224.20 L766.07,223.31 L767.61,222.43 L769.15,221.56 L770.69,220.69 L772.23,219.82 L773.77,218.96 L775.31,218.11 L776.85,217.26 L778.39,216.42 L779.93,215.59 L781.47,214.76 L783.01,213.93 L784.55,213.11 L786.09,212.30 L787.63,211.49 L789.17,210.69 L790.71,209.89 L792.25,209.10 L793.79,208.32 L795.33,207.54 L796.87,206.76 L798.41,206.00 L799.95,205.23 L801.49,204.48 L803.03,203.72 L804.57,202.98 L806.11,202.24 L807.65,201.50 L809.19,200.77 L810.73,200.05 L812.27,199.33 L813.81,198.62 L815.35,197.91 L816.89,197.20 L818.43,196.50 L819.97,195.81 L821.51,195.12 L823.05,194.44 L824.59,193.76 L826.13,193.09 L827.66,192.42 L829.20,191.75 L830.74,191.09 L832.28,190.44 L833.82,189.79 L835.36,189.14 L836.90,188.50 L838.44,187.87 L839.98,187.23 L841.52,186.61 L843.06,185.98 L844.60,185.36 L846.14,184.75 L847.68,184.14 L849.22,183.53 L850.76,182.93 L852.30,182.33 L853.84,181.74 L855.38,181.15 L856.92,180.56 L858.46,179.98 L860.00,179.40 L861.54,178.83 L863.08,178.26 L864.62,177.69 L866.16,177.13 L867.70,176.57 L869.24,176.01 L870.78,175.46 L872.32,174.91 L873.86,174.36 L875.40,173.82 L876.94,173.28 L878.48,172.75 L880.02,172.21 L881.56,171.69 L883.10,171.16 L884.64,170.64 L886.18,170.12 L887.72,169.60 L889.26,169.09 L890.80,168.58 L892.34,168.07 L893.88,167.57 L895.42,167.06 L896.96,166.56 L898.50,166.07 L900.04,165.58 L901.58,165.08 L903.12,164.60 L904.65,164.11 L906.19,163.63 L907.73,163.15 L909.27,162.67 L910.81,162.19 L912.35,161.72 L913.89,161.25 L915.43,160.78 L916.97,160.31 L918.51,159.85 L920.05,159.38 L921.59,158.92 L923.13,158.47 L924.67,158.01 L926.21,157.55 L927.75,157.10 L929.29,156.65 L930.83,156.20 L932.37,155.75 L933.91,155.31 L935.45,154.86 L936.99,154.42 L938.53,153.98 L940.07,153.54 L941.61,153.11 L943.15,152.67 L944.69,152.23 L946.23,151.80 L947.77,151.37 L949.31,150.94 L950.85,150.51 L952.39,150.08 L953.93,149.65 L955.47,149.22 L957.01,148.80 L958.55,148.37 L960.09,147.95 L961.63,147.53 L963.17,147.11 L964.71,146.69 L966.25,146.27 L967.79,145.85 L969.33,145.43 L970.87,145.01 L972.41,144.59 L973.95,144.17 L975.49,143.76 L977.03,143.34 L978.57,142.93 L980.11,142.51 L981.64,142.10 L983.18,141.68 L984.72,141.27 L986.26,140.85 L987.80,140.44 L989.34,140.02 L990.88,139.61 L992.42,139.20 L993.96,138.78 L995.50,138.37 L997.04,137.95 L998.58,137.54 L1000.12,137.12 L1001.66,136.71 L1003.20,136.29 L1004.74,135.88 L1006.28,135.46 L1007.82,135.04 L1009.36,134.63 L1010.90,134.21 L1012.44,133.79 L1013.98,133.37 L1015.52,132.95 L1017.06,132.53 L1018.60,132.11" fill="none" stroke="#1c1c1c" stroke-width="1.25" stroke-linejoin="round"/>
<line x1="646.10" y1="260.80" x2="646.10" y2="288.00" stroke="#1c1c1c" stroke-width="1.15"/>
<line x1="642.20" y1="260.80" x2="650.00" y2="260.80" stroke="#1c1c1c" stroke-width="1.15"/>
<line x1="642.20" y1="288.00" x2="650.00" y2="288.00" stroke="#1c1c1c" stroke-width="1.15"/>
<line x1="660.50" y1="234.10" x2="660.50" y2="261.30" stroke="#1c1c1c" stroke-width="1.15"/>
<line x1="656.60" y1="234.10" x2="664.40" y2="234.10" stroke="#1c1c1c" stroke-width="1.15"/>
<line x1="656.60" y1="261.30" x2="664.40" y2="261.30" stroke="#1c1c1c" stroke-width="1.15"/>
<line x1="681.30" y1="213.40" x2="681.30" y2="240.60" stroke="#1c1c1c" stroke-width="1.15"/>
<line x1="677.40" y1="213.40" x2="685.20" y2="213.40" stroke="#1c1c1c" stroke-width="1.15"/>
<line x1="677.40" y1="240.60" x2="685.20" y2="240.60" stroke="#1c1c1c" stroke-width="1.15"/>
<line x1="694.70" y1="173.10" x2="694.70" y2="200.30" stroke="#1c1c1c" stroke-width="1.15"/>
<line x1="690.80" y1="173.10" x2="698.60" y2="173.10" stroke="#1c1c1c" stroke-width="1.15"/>
<line x1="690.80" y1="200.30" x2="698.60" y2="200.30" stroke="#1c1c1c" stroke-width="1.15"/>
<line x1="711.50" y1="139.30" x2="711.50" y2="166.50" stroke="#1c1c1c" stroke-width="1.15"/>
<line x1="707.60" y1="139.30" x2="715.40" y2="139.30" stroke="#1c1c1c" stroke-width="1.15"/>
<line x1="707.60" y1="166.50" x2="715.40" y2="166.50" stroke="#1c1c1c" stroke-width="1.15"/>
<line x1="733.50" y1="132.50" x2="733.50" y2="159.70" stroke="#1c1c1c" stroke-width="1.15"/>
<line x1="729.60" y1="132.50" x2="737.40" y2="132.50" stroke="#1c1c1c" stroke-width="1.15"/>
<line x1="729.60" y1="159.70" x2="737.40" y2="159.70" stroke="#1c1c1c" stroke-width="1.15"/>
<line x1="762.80" y1="98.70" x2="762.80" y2="125.90" stroke="#1c1c1c" stroke-width="1.15"/>
<line x1="758.90" y1="98.70" x2="766.70" y2="98.70" stroke="#1c1c1c" stroke-width="1.15"/>
<line x1="758.90" y1="125.90" x2="766.70" y2="125.90" stroke="#1c1c1c" stroke-width="1.15"/>
<line x1="803.60" y1="105.30" x2="803.60" y2="132.50" stroke="#1c1c1c" stroke-width="1.15"/>
<line x1="799.70" y1="105.30" x2="807.50" y2="105.30" stroke="#1c1c1c" stroke-width="1.15"/>
<line x1="799.70" y1="132.50" x2="807.50" y2="132.50" stroke="#1c1c1c" stroke-width="1.15"/>
<line x1="866.10" y1="79.20" x2="866.10" y2="106.40" stroke="#1c1c1c" stroke-width="1.15"/>
<line x1="862.20" y1="79.20" x2="870.00" y2="79.20" stroke="#1c1c1c" stroke-width="1.15"/>
<line x1="862.20" y1="106.40" x2="870.00" y2="106.40" stroke="#1c1c1c" stroke-width="1.15"/>
<line x1="967.60" y1="71.60" x2="967.60" y2="98.80" stroke="#1c1c1c" stroke-width="1.15"/>
<line x1="963.70" y1="71.60" x2="971.50" y2="71.60" stroke="#1c1c1c" stroke-width="1.15"/>
<line x1="963.70" y1="98.80" x2="971.50" y2="98.80" stroke="#1c1c1c" stroke-width="1.15"/>
<line x1="646.10" y1="309.20" x2="646.10" y2="318.60" stroke="#1c1c1c" stroke-width="1.15"/>
<line x1="646.10" y1="328.60" x2="646.10" y2="338.00" stroke="#1c1c1c" stroke-width="1.15"/>
<line x1="642.20" y1="309.20" x2="650.00" y2="309.20" stroke="#1c1c1c" stroke-width="1.15"/>
<line x1="642.20" y1="338.00" x2="650.00" y2="338.00" stroke="#1c1c1c" stroke-width="1.15"/>
<line x1="660.50" y1="273.90" x2="660.50" y2="288.70" stroke="#1c1c1c" stroke-width="1.15"/>
<line x1="660.50" y1="298.70" x2="660.50" y2="313.50" stroke="#1c1c1c" stroke-width="1.15"/>
<line x1="656.60" y1="273.90" x2="664.40" y2="273.90" stroke="#1c1c1c" stroke-width="1.15"/>
<line x1="656.60" y1="313.50" x2="664.40" y2="313.50" stroke="#1c1c1c" stroke-width="1.15"/>
<line x1="681.30" y1="263.80" x2="681.30" y2="280.30" stroke="#1c1c1c" stroke-width="1.15"/>
<line x1="681.30" y1="290.30" x2="681.30" y2="306.80" stroke="#1c1c1c" stroke-width="1.15"/>
<line x1="677.40" y1="263.80" x2="685.20" y2="263.80" stroke="#1c1c1c" stroke-width="1.15"/>
<line x1="677.40" y1="306.80" x2="685.20" y2="306.80" stroke="#1c1c1c" stroke-width="1.15"/>
<line x1="694.60" y1="242.10" x2="694.60" y2="263.00" stroke="#1c1c1c" stroke-width="1.15"/>
<line x1="694.60" y1="273.00" x2="694.60" y2="293.90" stroke="#1c1c1c" stroke-width="1.15"/>
<line x1="690.70" y1="242.10" x2="698.50" y2="242.10" stroke="#1c1c1c" stroke-width="1.15"/>
<line x1="690.70" y1="293.90" x2="698.50" y2="293.90" stroke="#1c1c1c" stroke-width="1.15"/>
<line x1="712.10" y1="219.00" x2="712.10" y2="248.10" stroke="#1c1c1c" stroke-width="1.15"/>
<line x1="712.10" y1="258.10" x2="712.10" y2="287.20" stroke="#1c1c1c" stroke-width="1.15"/>
<line x1="708.20" y1="219.00" x2="716.00" y2="219.00" stroke="#1c1c1c" stroke-width="1.15"/>
<line x1="708.20" y1="287.20" x2="716.00" y2="287.20" stroke="#1c1c1c" stroke-width="1.15"/>
<line x1="733.60" y1="201.00" x2="733.60" y2="244.00" stroke="#1c1c1c" stroke-width="1.15"/>
<line x1="733.60" y1="254.00" x2="733.60" y2="297.00" stroke="#1c1c1c" stroke-width="1.15"/>
<line x1="729.70" y1="201.00" x2="737.50" y2="201.00" stroke="#1c1c1c" stroke-width="1.15"/>
<line x1="729.70" y1="297.00" x2="737.50" y2="297.00" stroke="#1c1c1c" stroke-width="1.15"/>
<line x1="763.00" y1="206.40" x2="763.00" y2="216.30" stroke="#1c1c1c" stroke-width="1.15"/>
<line x1="763.00" y1="226.30" x2="763.00" y2="236.20" stroke="#1c1c1c" stroke-width="1.15"/>
<line x1="759.10" y1="206.40" x2="766.90" y2="206.40" stroke="#1c1c1c" stroke-width="1.15"/>
<line x1="759.10" y1="236.20" x2="766.90" y2="236.20" stroke="#1c1c1c" stroke-width="1.15"/>
<line x1="803.80" y1="164.30" x2="803.80" y2="189.90" stroke="#1c1c1c" stroke-width="1.15"/>
<line x1="803.80" y1="199.90" x2="803.80" y2="225.50" stroke="#1c1c1c" stroke-width="1.15"/>
<line x1="799.90" y1="164.30" x2="807.70" y2="164.30" stroke="#1c1c1c" stroke-width="1.15"/>
<line x1="799.90" y1="225.50" x2="807.70" y2="225.50" stroke="#1c1c1c" stroke-width="1.15"/>
<line x1="865.60" y1="154.00" x2="865.60" y2="181.00" stroke="#1c1c1c" stroke-width="1.15"/>
<line x1="865.60" y1="191.00" x2="865.60" y2="218.00" stroke="#1c1c1c" stroke-width="1.15"/>
<line x1="861.70" y1="154.00" x2="869.50" y2="154.00" stroke="#1c1c1c" stroke-width="1.15"/>
<line x1="861.70" y1="218.00" x2="869.50" y2="218.00" stroke="#1c1c1c" stroke-width="1.15"/>
<line x1="968.00" y1="129.20" x2="968.00" y2="161.50" stroke="#1c1c1c" stroke-width="1.15"/>
<line x1="968.00" y1="171.50" x2="968.00" y2="203.80" stroke="#1c1c1c" stroke-width="1.15"/>
<line x1="964.10" y1="129.20" x2="971.90" y2="129.20" stroke="#1c1c1c" stroke-width="1.15"/>
<line x1="964.10" y1="203.80" x2="971.90" y2="203.80" stroke="#1c1c1c" stroke-width="1.15"/>
<polygon points="646.10,318.20 641.30,326.30 650.90,326.30" fill="#000"/>
<polygon points="660.50,288.30 655.70,296.40 665.30,296.40" fill="#000"/>
<polygon points="681.30,279.90 676.50,288.00 686.10,288.00" fill="#000"/>
<polygon points="694.60,262.60 689.80,270.70 699.40,270.70" fill="#000"/>
<polygon points="712.10,247.70 707.30,255.80 716.90,255.80" fill="#000"/>
<polygon points="733.60,243.60 728.80,251.70 738.40,251.70" fill="#000"/>
<polygon points="763.00,215.90 758.20,224.00 767.80,224.00" fill="#000"/>
<polygon points="803.80,189.50 799.00,197.60 808.60,197.60" fill="#000"/>
<polygon points="865.60,180.60 860.80,188.70 870.40,188.70" fill="#000"/>
<polygon points="968.00,161.10 963.20,169.20 972.80,169.20" fill="#000"/>
<circle cx="646.10" cy="274.40" r="3.5" fill="#000"/>
<circle cx="660.50" cy="247.70" r="3.5" fill="#000"/>
<circle cx="681.30" cy="227.00" r="3.5" fill="#000"/>
<circle cx="694.70" cy="186.70" r="3.5" fill="#000"/>
<circle cx="711.50" cy="152.90" r="3.5" fill="#000"/>
<circle cx="733.50" cy="146.10" r="3.5" fill="#000"/>
<circle cx="762.80" cy="112.30" r="3.5" fill="#000"/>
<circle cx="803.60" cy="118.90" r="3.5" fill="#000"/>
<circle cx="866.10" cy="92.80" r="3.5" fill="#000"/>
<circle cx="967.60" cy="85.20" r="3.5" fill="#000"/>
<polygon points="883.70,287.53 878.10,296.33 889.30,296.33" fill="#000"/>
<circle cx="882.80" cy="314.70" r="4.3" fill="#000"/>
<text x="895.00" y="297.40" font-size="20.7" text-anchor="start"  style="">10k-(0.46)</text>
<text x="895.00" y="320.30" font-size="20.7" text-anchor="start"  style="">10k-(0.71)</text>
<text x="567.60" y="45.80" font-size="27" text-anchor="start"  style="">b)</text>
<text x="598.40" y="42.70" font-size="24.5" text-anchor="start"  style="font-style:italic">t</text>
<text x="605.00" y="46.60" font-size="19" text-anchor="start"  style="font-style:italic">m</text>
<text x="710.50" y="42.70" font-size="23" text-anchor="end"  style="">= 200 ms</text>
<text transform="translate(548.6,62.3) rotate(-90)" font-size="22" letter-spacing="0.15">Δ<tspan font-style="italic">S</tspan>/<tspan font-style="italic">S</tspan><tspan font-size="15" dy="3" font-style="italic">0</tspan></text>
<text x="937.00" y="372.70" font-size="24.5" text-anchor="start"  style="font-style:italic">N</text>
<text x="955.20" y="372.70" font-size="23.5" text-anchor="start"  style="font-style:italic">t</text>
<text x="961.60" y="376.20" font-size="18" text-anchor="start"  style="font-style:italic">r</text>
<text x="1010.40" y="372.70" font-size="23.4" text-anchor="end"  style="">(μs)</text>
<text x="882.30" y="73.70" font-size="24" text-anchor="start"  style="">σ</text>
<text x="896.00" y="78.60" font-size="15" text-anchor="start"  style="">D</text>
<text x="909.60" y="73.70" font-size="20" text-anchor="start"  style="">= 65</text>
<text x="945.20" y="67.40" font-size="14" text-anchor="start"  style="">o</text>
<text x="882.30" y="190.20" font-size="24" text-anchor="start"  style="">σ</text>
<text x="896.00" y="195.10" font-size="15" text-anchor="start"  style="">D</text>
<text x="909.60" y="190.20" font-size="20" text-anchor="start"  style="">= 30</text>
<text x="945.20" y="183.90" font-size="14" text-anchor="start"  style="">o</text>
</svg>
</body></html>
